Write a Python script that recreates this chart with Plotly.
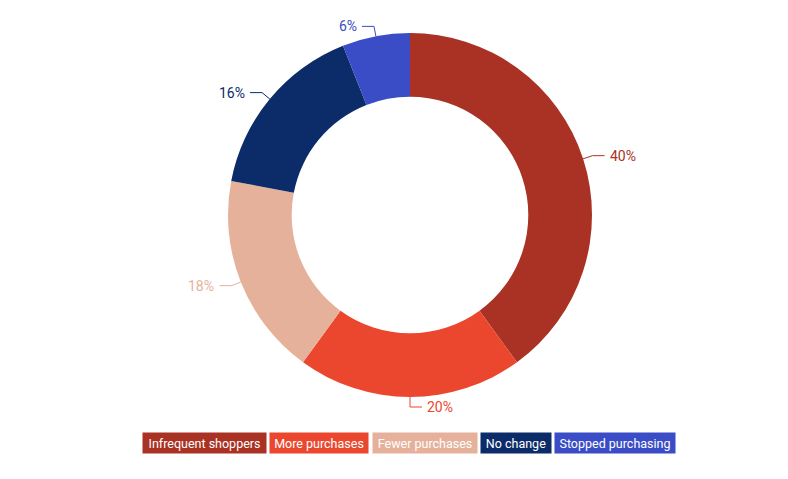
import math
import plotly.graph_objects as go

W, H = 788, 479

categories = ["Infrequent shoppers", "More purchases", "Fewer purchases", "No change", "Stopped purchasing"]
shares = [40, 20, 18, 16, 6]
colors = ["#a93224", "#eb472f", "#e6b19b", "#0b2c69", "#3a4dc6"]

# pie geometry in screen pixels (page has an 8px body margin)
cx, cy, R = 410, 215, 182
OFF = 8
FONT = "Roboto, Lato, sans-serif"


def px(x):
    return (x - OFF) / W


def py(y):
    return 1 - (y - OFF) / H


fig = go.Figure(go.Pie(
    labels=categories, values=shares, sort=False, direction="clockwise",
    hole=0.65, textinfo="none", hoverinfo="label+percent",
    marker=dict(colors=colors, line=dict(width=0)),
    domain=dict(x=[px(cx - R), px(cx + R)], y=[py(cy + R), py(cy - R)]),
    showlegend=False,
))

# outside labels with elbow connectors
total = sum(shares)
cum = 0
for name, v, col in zip(categories, shares, colors):
    mid = (cum + v / 2) / total * 2 * math.pi
    cum += v
    s, c = math.sin(mid), math.cos(mid)
    x0, y0 = cx + R * s, cy - R * c
    x1, y1 = cx + (R + 10) * s, cy - (R + 10) * c
    side = 1 if s >= -1e-9 else -1
    x2 = x1 + side * 12
    fig.add_shape(type="path", xref="paper", yref="paper",
                  path=f"M {px(x0)} {py(y0)} L {px(x1)} {py(y1)} L {px(x2)} {py(y1)}",
                  line=dict(color=col, width=1))
    fig.add_annotation(x=px(x2 + side * 3), y=py(y1), xref="paper", yref="paper",
                       text=f"{v}%", showarrow=False,
                       xanchor="left" if side > 0 else "right", yanchor="middle",
                       font=dict(family=FONT, size=14, color=col))

# legend as coloured boxes
box_left = [143, 270, 373, 481, 555]
box_right = [266, 368, 477, 551, 675]
for name, col, l, r in zip(categories, colors, box_left, box_right):
    fig.add_annotation(x=px((l + r) / 2), y=py(443), xref="paper", yref="paper",
                       text=name, showarrow=False, width=r - l - 4, height=16,
                       bgcolor=col, borderpad=2, align="center",
                       xanchor="center", yanchor="middle",
                       font=dict(family=FONT, size=12.5, color="white"))

fig.update_layout(width=W, height=H, margin=dict(l=0, r=0, t=0, b=0),
                  paper_bgcolor="white", plot_bgcolor="white")

fig.write_html("out.html")
